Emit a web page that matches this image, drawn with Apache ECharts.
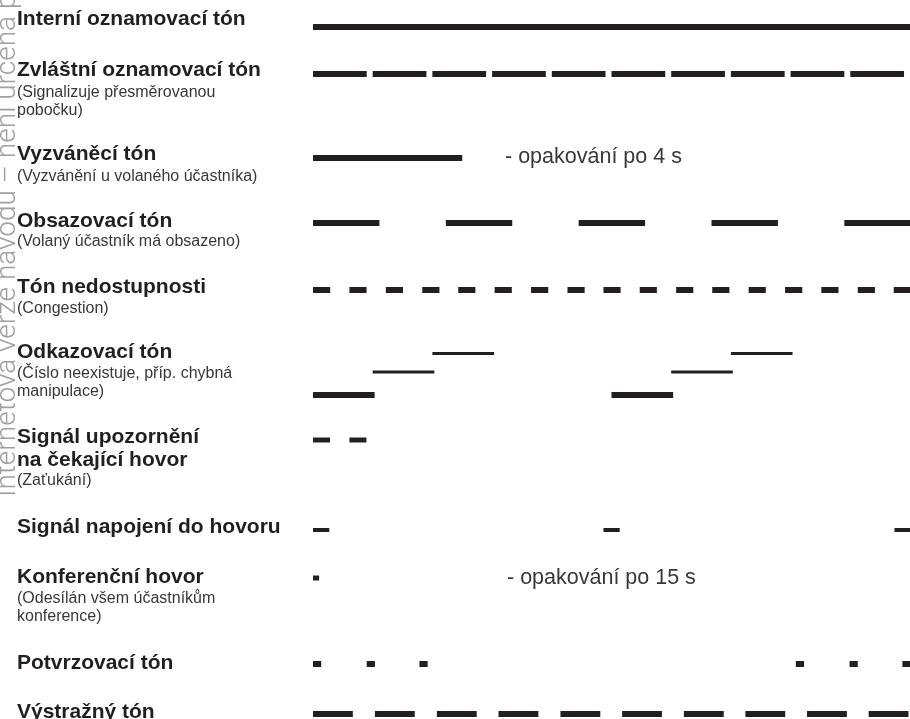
<!DOCTYPE html>
<html>
<head>
<meta charset="utf-8">
<script src="https://cdn.jsdelivr.net/npm/echarts@6/dist/echarts.min.js"></script>
<style>
html,body{margin:0;padding:0;background:#fff;}
#chart{width:910px;height:719px;}
</style>
</head>
<body>
<div id="chart"></div>
<script>
// ---------- DATA (seconds) ----------
const toneTitles = [
  ['Interní oznamovací tón'],
  ['Zvláštní oznamovací tón'],
  ['Vyzváněcí tón'],
  ['Obsazovací tón'],
  ['Tón nedostupnosti'],
  ['Odkazovací tón'],
  ['Signál upozornění', 'na čekající hovor'],
  ['Signál napojení do hovoru'],
  ['Konferenční hovor'],
  ['Potvrzovací tón'],
  ['Výstražný tón']
];
const toneNotes = [
  [],
  ['(Signalizuje přesměrovanou', 'pobočku)'],
  ['(Vyzvánění u volaného účastníka)'],
  ['(Volaný účastník má obsazeno)'],
  ['(Congestion)'],
  ['(Číslo neexistuje, příp. chybná', 'manipulace)'],
  ['(Zaťukání)'],
  [],
  ['(Odesílán všem účastníkům', 'konference)'],
  [],
  []
];
const repeatNotes = ['- opakování po 4 s', '- opakování po 15 s'];
const watermarkText = 'Internetová verze návodu – není určena pro prodej';

const internalDial = [[0, 4.0]];
const specialDial = [[0, 0.36], [0.4, 0.76], [0.8, 1.16], [1.2, 1.56], [1.6, 1.96], [2.0, 2.36], [2.4, 2.76], [2.8, 3.16], [3.2, 3.56], [3.6, 3.96]];
const ringback = [[0, 1.0]];
const busy = [[0, 0.445], [0.89, 1.335], [1.78, 2.225], [2.67, 3.115], [3.56, 4.0]];
const congestion = [[0, 0.115], [0.244, 0.359], [0.488, 0.603], [0.732, 0.847], [0.973, 1.088], [1.217, 1.332], [1.461, 1.576], [1.705, 1.82], [1.946, 2.061], [2.189, 2.304], [2.433, 2.548], [2.675, 2.79], [2.919, 3.034], [3.163, 3.278], [3.406, 3.521], [3.65, 3.765], [3.891, 4.006]];
// [start, end, pitch level 1..3]
const numberUnobtainable = [[0, 0.413, 1], [0.4, 0.813, 2], [0.8, 1.213, 3], [2.0, 2.413, 1], [2.4, 2.813, 2], [2.8, 3.213, 3]];
const callWaiting = [[0, 0.114], [0.244, 0.358]];
const bargeIn = [[0, 0.109], [1.946, 2.055], [3.896, 4.005]];
const conference = [[0, 0.041]];
const confirmTone = [[0, 0.055], [0.36, 0.415], [0.713, 0.768], [3.235, 3.29], [3.595, 3.65], [3.949, 4.004]];
const warningTone = [[0, 0.267], [0.415, 0.682], [0.83, 1.097], [1.243, 1.51], [1.658, 1.925], [2.071, 2.338], [2.485, 2.752], [2.897, 3.164], [3.31, 3.577], [3.723, 3.99]];

// ---------- LAYOUT ----------
const INK = '#231f20';
const rowLayout = [
  {y: 27, h: 6}, {y: 74, h: 6}, {y: 158, h: 6}, {y: 223, h: 6}, {y: 290, h: 6},
  {y: 395, h: 6}, {y: 440, h: 5}, {y: 530, h: 4}, {y: 578, h: 5}, {y: 664, h: 6}, {y: 714, h: 6}
];
const sitLevels = {1: {y: 395, h: 6}, 2: {y: 372, h: 3}, 3: {y: 353.5, h: 3}};
const titleY = [[19], [70], [154], [221], [287], [352], [437, 460], [527], [577], [663], [712]];
const noteY = [[], [93, 111], [177], [242], [309], [374, 392], [481], [], [599, 617], [], []];
const repeatPos = [{x: 505, y: 157}, {x: 507, y: 578}];

const rowData = [internalDial, specialDial, ringback, busy, congestion, numberUnobtainable, callWaiting, bargeIn, conference, confirmTone, warningTone];

function makeSeries(idx) {
  const lay = rowLayout[idx];
  return {
    type: 'custom',
    coordinateSystem: 'cartesian2d',
    encode: {x: [0, 1]},
    clip: false,
    data: rowData[idx],
    renderItem: function (params, api) {
      let y = lay.y, h = lay.h;
      if (idx === 5) { const lv = sitLevels[api.value(2)]; y = lv.y; h = lv.h; }
      const p0 = api.coord([api.value(0), y]);
      const p1 = api.coord([api.value(1), y]);
      return {
        type: 'rect',
        shape: {x: p0[0], y: p0[1] - h / 2, width: p1[0] - p0[0], height: h},
        style: {fill: INK}
      };
    }
  };
}

const graphics = [];
graphics.push({
  type: 'text', x: 22, y: 497, rotation: Math.PI / 2, silent: true, z: 0,
  style: {text: watermarkText, font: '300 28px Roboto, "Liberation Sans", sans-serif', fill: '#a0a0a0', textAlign: 'left', textVerticalAlign: 'bottom'}
});
toneTitles.forEach((lines, i) => {
  lines.forEach((t, j) => graphics.push({
    type: 'text', x: 17, y: titleY[i][j], z: 10,
    style: {text: t, font: 'bold 21px "Liberation Sans", Arial, sans-serif', fill: INK, textAlign: 'left', textVerticalAlign: 'middle'}
  }));
  toneNotes[i].forEach((t, j) => graphics.push({
    type: 'text', x: 17, y: noteY[i][j], z: 10,
    style: {text: t, font: '16px "Liberation Sans", Arial, sans-serif', fill: '#383838', textAlign: 'left', textVerticalAlign: 'middle'}
  }));
});
repeatNotes.forEach((t, i) => graphics.push({
  type: 'text', x: repeatPos[i].x, y: repeatPos[i].y, z: 10,
  style: {text: t, font: '21.5px "Liberation Sans", Arial, sans-serif', fill: '#383838', textAlign: 'left', textVerticalAlign: 'middle'}
}));

const chart = echarts.init(document.getElementById('chart'));
chart.setOption({
  animation: false,
  backgroundColor: '#fff',
  grid: {left: 313, right: -3, top: 0, bottom: 0},
  xAxis: {type: 'value', min: 0, max: 4, show: false},
  yAxis: {type: 'value', min: 0, max: 719, inverse: true, show: false},
  graphic: graphics,
  series: rowData.map((d, i) => makeSeries(i))
});
</script>
</body>
</html>
